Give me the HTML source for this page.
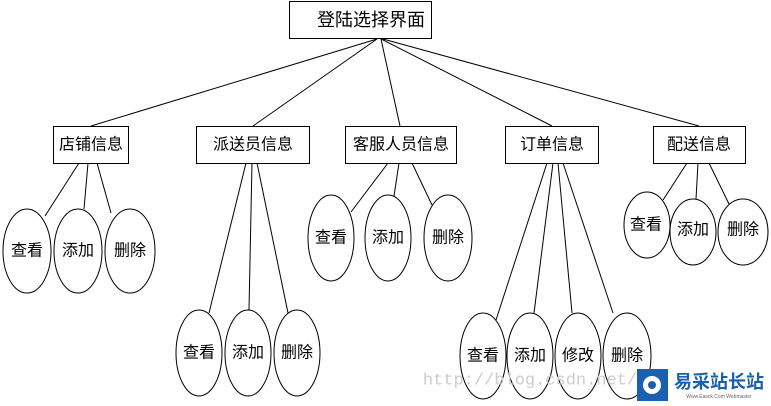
<!DOCTYPE html>
<html><head><meta charset="utf-8"><style>
html,body{margin:0;padding:0;background:#fff;}
svg text{font-family:"Liberation Sans","Noto Sans CJK SC","WenQuanYi Zen Hei",sans-serif;font-size:16px;fill:#000;text-anchor:middle;dominant-baseline:central;}
</style></head><body>
<svg width="771" height="401" viewBox="0 0 771 401" xmlns="http://www.w3.org/2000/svg">
<g stroke="#000" stroke-width="1" fill="none">
<line x1="377" y1="39" x2="91" y2="126"/>
<line x1="377" y1="39" x2="253" y2="126"/>
<line x1="381" y1="39" x2="400" y2="126"/>
<line x1="381" y1="39" x2="552" y2="126"/>
<line x1="383" y1="39" x2="699" y2="126"/>
<line x1="79" y1="163" x2="45" y2="216"/>
<line x1="88" y1="163" x2="84" y2="209"/>
<line x1="97" y1="163" x2="111" y2="213"/>
<line x1="246" y1="163" x2="209" y2="313"/>
<line x1="252" y1="163" x2="249" y2="310"/>
<line x1="257" y1="163" x2="288" y2="313"/>
<line x1="388" y1="163" x2="351" y2="212"/>
<line x1="399" y1="163" x2="394" y2="196"/>
<line x1="412" y1="163" x2="432" y2="205"/>
<line x1="547" y1="163" x2="496" y2="320"/>
<line x1="553" y1="163" x2="534" y2="313"/>
<line x1="558" y1="163" x2="572" y2="313"/>
<line x1="563" y1="163" x2="613" y2="313"/>
<line x1="687" y1="163" x2="663" y2="200"/>
<line x1="698" y1="163" x2="696" y2="199"/>
<line x1="709" y1="163" x2="729" y2="204"/>
</g>
<g stroke="#000" stroke-width="1" fill="#fff">
<rect x="289.5" y="1.5" width="142" height="37"/>
<rect x="53.5" y="126.5" width="75" height="37"/>
<rect x="196.5" y="126.5" width="113" height="37"/>
<rect x="345.5" y="126.5" width="111" height="37"/>
<rect x="505.5" y="126.5" width="93" height="37"/>
<rect x="653.5" y="126.5" width="92" height="37"/>
<ellipse cx="27" cy="251" rx="24" ry="42"/>
<ellipse cx="78" cy="251" rx="24" ry="42"/>
<ellipse cx="130" cy="251" rx="25" ry="42"/>
<ellipse cx="199" cy="353" rx="23" ry="43"/>
<ellipse cx="248" cy="353" rx="23" ry="43"/>
<ellipse cx="297" cy="353" rx="23" ry="43"/>
<ellipse cx="331" cy="238" rx="23" ry="43"/>
<ellipse cx="388" cy="238" rx="23" ry="43"/>
<ellipse cx="448" cy="238" rx="24" ry="43"/>
<ellipse cx="483" cy="356" rx="23" ry="43"/>
<ellipse cx="530" cy="356" rx="23" ry="43"/>
<ellipse cx="578" cy="356" rx="23" ry="43"/>
<ellipse cx="627" cy="356" rx="24" ry="43"/>
<ellipse cx="647" cy="225" rx="23" ry="33"/>
<ellipse cx="693" cy="232" rx="23" ry="33"/>
<ellipse cx="743" cy="232" rx="25" ry="33"/>
</g>
<text x="371" y="20" style="font-size:18px">登陆选择界面</text>
<text x="91" y="145">店铺信息</text>
<text x="253" y="145">派送员信息</text>
<text x="401" y="145">客服人员信息</text>
<text x="552" y="145">订单信息</text>
<text x="699" y="145">配送信息</text>
<text x="27" y="251">查看</text><text x="78" y="251">添加</text><text x="130" y="251">删除</text>
<text x="199" y="353">查看</text><text x="248" y="353">添加</text><text x="297" y="353">删除</text>
<text x="331" y="238">查看</text><text x="388" y="238">添加</text><text x="448" y="238">删除</text>
<text x="483" y="356">查看</text><text x="530" y="356">添加</text><text x="578" y="356">修改</text><text x="627" y="356">删除</text>
<text x="646" y="225">查看</text><text x="693" y="230">添加</text><text x="743" y="230">删除</text>
<text x="530" y="381" style="font-size:17px;fill:#ccc;font-family:'Liberation Mono',monospace">http://blog.csdn.net/</text>
<rect x="637" y="369" width="31" height="32" fill="#1a5fb0"/>
<circle cx="652" cy="385" r="9" fill="#fff"/>
<circle cx="652" cy="385" r="4" fill="#1a5fb0"/>
<rect x="668" y="369" width="103" height="32" fill="#fff"/>
<text x="719" y="382" style="font-size:18px;fill:#1a5fb0;font-weight:bold">易采站长站</text>
<text x="719" y="397" style="font-size:5px;fill:#666">Www.Easck.Com Webmaster</text>
</svg>
</body></html>
